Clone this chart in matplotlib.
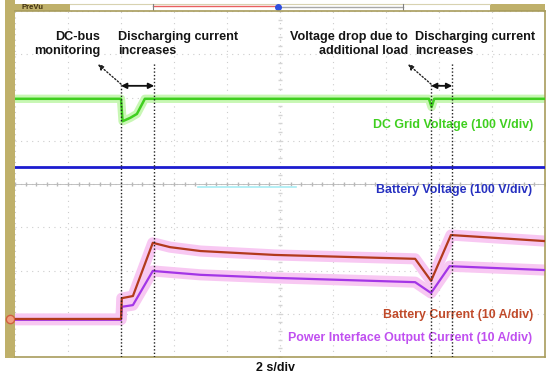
import matplotlib

matplotlib.use("Agg")
import matplotlib.pyplot as plt
from matplotlib.patches import Rectangle

# time in seconds (2 s/div, 10 div), amplitude in divisions (8 div, centre = 0)
green_t = [0, 4.0, 4.06, 4.35, 4.6, 4.9, 15.62, 15.72, 15.82, 20]
green_v = [1.97, 1.97, 1.45, 1.53, 1.62, 1.97, 1.97, 1.78, 1.97, 1.97]

blue_t = [0, 20]
blue_v = [0.39, 0.39]

red_t = [0, 4.0, 4.03, 4.45, 5.2, 5.85, 7.0, 9.8, 15.1, 15.7, 16.45, 20]
red_v = [-3.12, -3.12, -2.64, -2.59, -1.36, -1.46, -1.55, -1.64, -1.73, -2.24, -1.18, -1.32]

mag_t = [0, 4.0, 4.03, 4.45, 5.2, 7.0, 9.8, 15.1, 15.7, 16.4, 20]
mag_v = [-3.14, -3.14, -2.84, -2.80, -2.01, -2.10, -2.17, -2.27, -2.52, -1.90, -1.99]

events = [(4.0, 5.25), (15.7, 16.5)]
notes = [
    ("DC-bus\nmonitoring", "Discharging current\nincreases"),
    ("Voltage drop due to\nadditional load", "Discharging current\nincreases"),
]
note_x = [(3.21, 3.89), (14.83, 15.09)]

GREEN = "#3fcf1f"
BLUE = "#1c1ccf"
RED = "#b23a1c"
MAGENTA = "#a336e6"
KHAKI = "#bfb06a"
FONT = "Liberation Sans"

fig = plt.figure(figsize=(5.5, 3.79), dpi=100)

# screen chrome in pixel coordinates
bg = fig.add_axes([0, 0, 1, 1])
bg.set_xlim(0, 550)
bg.set_ylim(379, 0)
bg.axis("off")
bg.add_patch(Rectangle((5, 0), 10, 358, color=KHAKI, lw=0))
bg.add_patch(Rectangle((7, 4), 63, 7, color=KHAKI, lw=0))
bg.add_patch(Rectangle((490, 4), 55, 7, color=KHAKI, lw=0))
bg.plot([70, 490], [4, 4], color="#d8d2b0", lw=0.8)
bg.plot([153, 277], [6, 6], color="#e86060", lw=1.0)
bg.plot([277, 403], [7, 7], color="#a8a8a8", lw=1.0)
bg.plot([153, 153], [4, 10], color="#808080", lw=0.8)
bg.plot([403, 403], [4, 10], color="#808080", lw=0.8)
bg.plot([278], [7], marker="o", ms=4, color="#3050e0")
bg.text(21, 7.5, "PreVu", fontsize=5.5, fontweight="bold", color="#403010",
        va="center", ha="left", family=FONT)
bg.plot([10], [319], marker="o", ms=6, color="#f0a080", mec="#d06040")

ax = fig.add_axes([15 / 550, 22 / 379, 530 / 550, 346 / 379])
ax.set_xlim(0, 20)
ax.set_ylim(-4, 4)
ax.set_xticks(range(0, 21, 2))
ax.set_yticks(range(-4, 5))
ax.tick_params(length=0, labelbottom=False, labelleft=False)
ax.grid(True, color="#cdcdcd", lw=0.8, linestyle=(0, (1, 4)))
for side in ("top", "right", "bottom"):
    ax.spines[side].set_color("#a89c5c")
    ax.spines[side].set_linewidth(1.2)
ax.spines["left"].set_visible(False)

# centre graticule with minor ticks
minor_x = [i * 0.4 for i in range(51)]
minor_y = [i * 0.2 - 4 for i in range(41)]
ax.plot([0, 20], [0, 0], color="#b8b8b8", lw=0.6)
ax.plot(minor_x, [0] * len(minor_x), ls="none", marker="|", ms=3, color="#b8b8b8")
ax.plot([10] * len(minor_y), minor_y, ls="none", marker="_", ms=3, color="#d4d4d4")
ax.plot([6.9, 10.6], [-0.07, -0.07], color="#a8ecf4", lw=1.2)

# glows
ax.plot(green_t, green_v, color="#c8f7b4", lw=6, solid_capstyle="butt", zorder=2)
ax.plot(red_t, red_v, color="#f8c8f2", lw=8, solid_capstyle="butt", zorder=2)
ax.plot(mag_t, mag_v, color="#f8c8f2", lw=8, solid_capstyle="butt", zorder=2)

ax.plot(green_t, green_v, color=GREEN, lw=1.8, zorder=3)
ax.plot(blue_t, blue_v, color=BLUE, lw=2.0, zorder=3)
ax.plot(mag_t, mag_v, color=MAGENTA, lw=1.6, zorder=3)
ax.plot(red_t, red_v, color=RED, lw=1.6, zorder=4)

# event markers
for (t0, t1), (left_note, right_note), (xl, xr) in zip(events, notes, note_x):
    ax.plot([t0, t0], [-4, 2.33], color="#202020", lw=1.0, ls=(0, (1, 1.5)), zorder=5)
    ax.plot([t1, t1], [-4, 2.82], color="#202020", lw=1.0, ls=(0, (1, 1.5)), zorder=5)
    ax.annotate("", xy=(t1, 2.27), xytext=(t0, 2.27),
                arrowprops=dict(arrowstyle="<|-|>", color="#101010", lw=1.3,
                                mutation_scale=8, shrinkA=0, shrinkB=0))
    ax.annotate("", xy=(t0 - 0.87, 2.77), xytext=(t0, 2.31),
                arrowprops=dict(arrowstyle="-|>", color="#202020", lw=1.0,
                                ls=(0, (1, 1.5)), mutation_scale=8,
                                shrinkA=0, shrinkB=0))
    ax.text(xl, 3.24, left_note, ha="right", va="center", fontsize=9.1,
            fontweight="bold", family=FONT, linespacing=1.25, color="#151515")
    ax.text(xr, 3.24, right_note, ha="left", va="center", fontsize=9.1,
            fontweight="bold", family=FONT, linespacing=1.25, color="#151515")

label_kw = dict(ha="right", va="center", fontsize=8.9, fontweight="bold", family=FONT)
ax.text(19.55, 1.36, "DC Grid Voltage (100 V/div)", color=GREEN, **label_kw)
ax.text(19.5, -0.14, "Battery Voltage (100 V/div)", color="#2630c0", **label_kw)
ax.text(19.55, -3.03, "Battery Current (10 A/div)", color="#c04a2a", **label_kw)
ax.text(19.5, -3.56, "Power Interface Output Current (10 A/div)", color="#c050f0", **label_kw)

bg.text(275, 368, "2 s/div", ha="center", va="center", fontsize=9,
        fontweight="bold", family=FONT, color="#101010")

fig.savefig("out.png", dpi=100)
